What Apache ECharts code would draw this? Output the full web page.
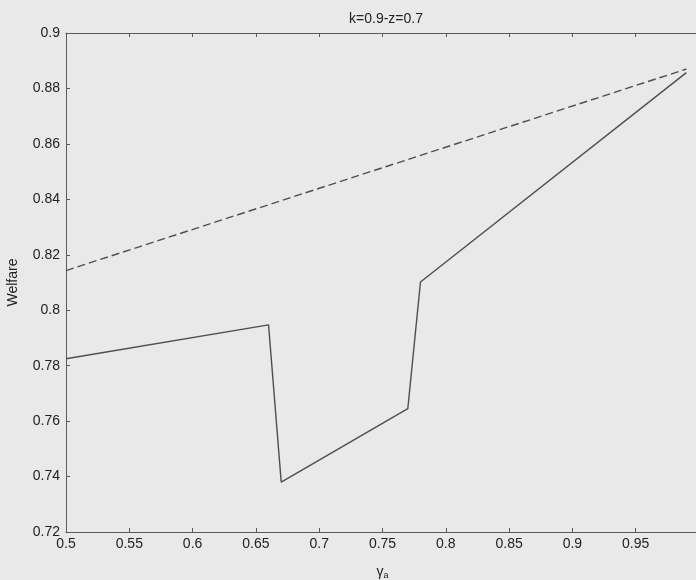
<!DOCTYPE html>
<html>
<head>
<meta charset="utf-8">
<script src="https://cdn.jsdelivr.net/npm/echarts@6/dist/echarts.min.js"></script>
<style>
html,body{margin:0;padding:0;background:#e9e9e9;}
#chart{width:696px;height:580px;}
</style>
</head>
<body>
<div id="chart"></div>
<script>
const titleText = 'k=0.9-z=0.7';
const solidGamma = [0.5, 0.66, 0.67, 0.77, 0.78, 0.99];
const solidWelfare = [0.7825, 0.7947, 0.738, 0.7645, 0.8102, 0.8857];
const dashedGamma = [0.5, 0.99];
const dashedWelfare = [0.8143, 0.8870];

const fmt = v => String(Math.round(v * 100) / 100);
const lineCol = '#4e4e4e';
const axisCol = '#5a5a5a';
const font = 'Liberation Sans, Arial, sans-serif';
const fs = 14;

const chart = echarts.init(document.getElementById('chart'), null, {renderer: 'canvas'});
chart.setOption({
  backgroundColor: '#e9e9e9',
  animation: false,
  title: {
    text: titleText, left: 381, top: 7, textAlign: 'center',
    textStyle: {fontFamily: font, fontSize: fs, fontWeight: 'normal', color: '#222'}
  },
  grid: {left: 66, top: 33, width: 633, height: 499, containLabel: false, outerBoundsMode: 'none'},
  xAxis: [{
    type: 'value', min: 0.5, max: 1, interval: 0.05, position: 'bottom',
    axisLine: {lineStyle: {color: axisCol, width: 1}},
    axisTick: {inside: true, length: 4, lineStyle: {color: axisCol}},
    splitLine: {show: false},
    axisLabel: {formatter: fmt, color: '#222', fontFamily: font, fontSize: fs, margin: 5, showMaxLabel: false},
    name: '{g|γ}{s|a}', nameLocation: 'middle', nameGap: 32,
    nameTextStyle: {rich: {g: {fontFamily: font, fontSize: fs, color: '#222'}, s: {fontFamily: font, fontSize: 9, color: '#222', verticalAlign: 'bottom', padding: [7,0,0,0]}}}
  }, {
    type: 'value', min: 0.5, max: 1, interval: 0.05, position: 'top',
    axisLine: {lineStyle: {color: axisCol, width: 1}},
    axisTick: {inside: true, length: 4, lineStyle: {color: axisCol}},
    axisLabel: {show: false}, splitLine: {show: false}
  }],
  yAxis: [{
    type: 'value', min: 0.72, max: 0.9, interval: 0.02, position: 'left',
    axisLine: {show: true, lineStyle: {color: axisCol, width: 1}},
    axisTick: {show: true, inside: true, length: 4, lineStyle: {color: axisCol}},
    splitLine: {show: false},
    axisLabel: {formatter: fmt, color: '#222', fontFamily: font, fontSize: fs, margin: 6},
    name: 'Welfare', nameLocation: 'middle', nameGap: 46, nameRotate: 90,
    nameTextStyle: {fontFamily: font, fontSize: fs, color: '#222'}
  }],
  series: [{
    type: 'line', xAxisIndex: 0, yAxisIndex: 0, symbol: 'none',
    data: solidGamma.map((g, i) => [g, solidWelfare[i]]),
    lineStyle: {color: lineCol, width: 1.4}
  }, {
    type: 'line', xAxisIndex: 0, yAxisIndex: 0, symbol: 'none',
    data: dashedGamma.map((g, i) => [g, dashedWelfare[i]]),
    lineStyle: {color: lineCol, width: 1.4, type: [8, 4]}
  }]
});
</script>
</body>
</html>
